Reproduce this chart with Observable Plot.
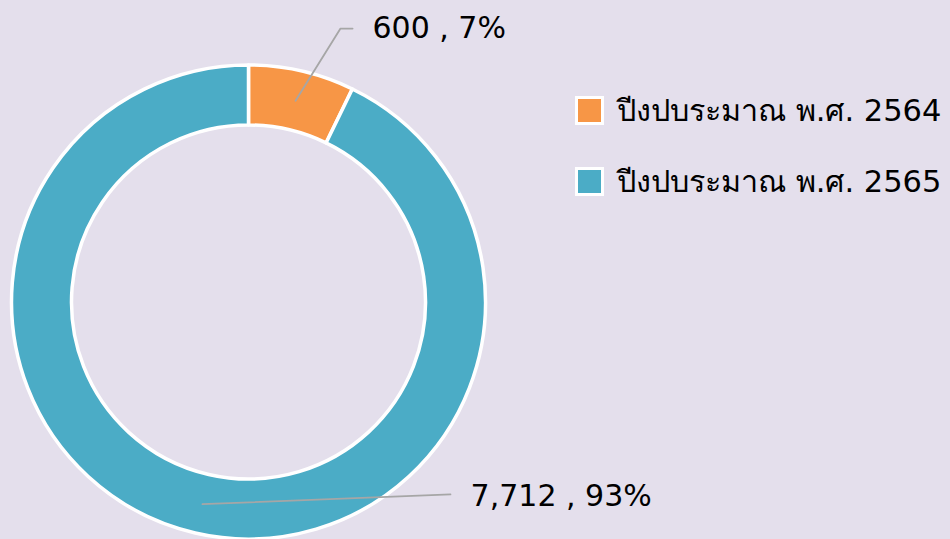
<!DOCTYPE html>
<html><head><meta charset="utf-8">
<script src="https://cdn.jsdelivr.net/npm/d3@7"></script>
<script src="https://cdn.jsdelivr.net/npm/@observablehq/plot@0.6"></script>
<style>
html,body{margin:0;padding:0;background:#E4DFEC;overflow:hidden;}
#chart svg{display:block;}
</style></head><body><div id="chart"></div>
<script>
// ---- data ----
const categories = ["ปีงปบระมาณ พ.ศ. 2564", "ปีงปบระมาณ พ.ศ. 2565"];
const values = [600, 7712];
const valueLabels = ["600", "7,712"];
const percentLabels = ["7%", "93%"];
const colors = ["#F79646", "#4BACC6"];

const FONT = "'DejaVu Sans', Tahoma, 'Noto Sans', sans-serif";
const data = categories.map((c, i) => ({category: c, value: values[i], label: `${valueLabels[i]} , ${percentLabels[i]}`}));

// ---- layout (pixels) ----
const cx = 248.5, cy = 302, R = 237, innerRatio = 177 / 237;
const W = 950, H = 539;

const pie = d3.pie().value(d => d.value).sort(null)(data);
// centroid of each slice in data units (unit = outer radius)
const midR = (1 + innerRatio) / 2;
const slices = pie.map(p => {
  const a = (p.startAngle + p.endAngle) / 2;
  return {...p.data, p, ax: midR * Math.sin(a), ay: midR * Math.cos(a)};
});
// label placement (data units, relative to chart centre)
const labelPlace = [
  {elbow: [0.386, 1.156], end: [0.437, 1.156], text: [0.521, 1.118]},
  {elbow: [0.850, -0.810], end: [0.850, -0.810], text: [0.935, -0.857]}
];
const leader = slices.flatMap((s, i) => [
  {category: s.category, x: s.ax, y: s.ay},
  {category: s.category, x: labelPlace[i].elbow[0], y: labelPlace[i].elbow[1]},
  {category: s.category, x: labelPlace[i].end[0], y: labelPlace[i].end[1]}
]);
const labels = slices.map((s, i) => ({label: s.label, x: labelPlace[i].text[0], y: labelPlace[i].text[1]}));

function donut(index, scales, values, dims, context) {
  const X = scales.x, Y = scales.y;
  const color = scales.color || d3.scaleOrdinal(categories, colors);
  const ox = X(0), oy = Y(0), Rpx = X(1) - X(0);
  const arc = d3.arc().innerRadius(Rpx * innerRatio).outerRadius(Rpx);
  const g = d3.create("svg:g");
  const gg = g.append("g").attr("transform", `translate(${ox},${oy})`);
  gg.selectAll("path").data(pie).join("path")
    .attr("d", arc)
    .attr("fill", d => color(d.data.category))
    .attr("stroke", "white").attr("stroke-width", 3.5).attr("stroke-linejoin", "round");
  return g.node();
}

function legend(index, scales) {
  const color = scales.color || d3.scaleOrdinal(categories, colors);
  const g = d3.create("svg:g").attr("transform", "translate(575,96)");
  const item = g.selectAll("g").data(categories).join("g")
    .attr("transform", (d, i) => `translate(0,${i * 71})`);
  item.append("rect").attr("x", 1.5).attr("y", 1.5).attr("width", 26).attr("height", 26)
    .attr("fill", d => color(d)).attr("stroke", "white").attr("stroke-width", 3);
  item.append("text").attr("x", 42).attr("y", 25)
    .attr("text-anchor", "start")
    .attr("font-family", FONT).attr("font-size", 30.5).attr("fill", "#000")
    .text(d => d);
  return g.node();
}

const chart = Plot.plot({
  width: W, height: H,
  margin: 0,
  x: {domain: [-1, 1], range: [cx - R, cx + R], axis: null},
  y: {domain: [-1, 1], range: [cy + R, cy - R], axis: null},
  color: {domain: categories, range: colors},
  style: {background: "#E4DFEC", fontFamily: FONT},
  marks: [
    donut,
    Plot.dot(slices, {x: "ax", y: "ay", fill: "category", r: 0}),
    Plot.line(leader, {x: "x", y: "y", z: "category", stroke: "#A6A6A6", strokeWidth: 1.8, curve: "linear"}),
    Plot.text(labels, {x: "x", y: "y", text: "label", textAnchor: "start", lineAnchor: "bottom", fontSize: 30, fill: "#000", fontFamily: FONT}),
    legend
  ]
});
document.getElementById("chart").appendChild(chart);
</script>
</body></html>
